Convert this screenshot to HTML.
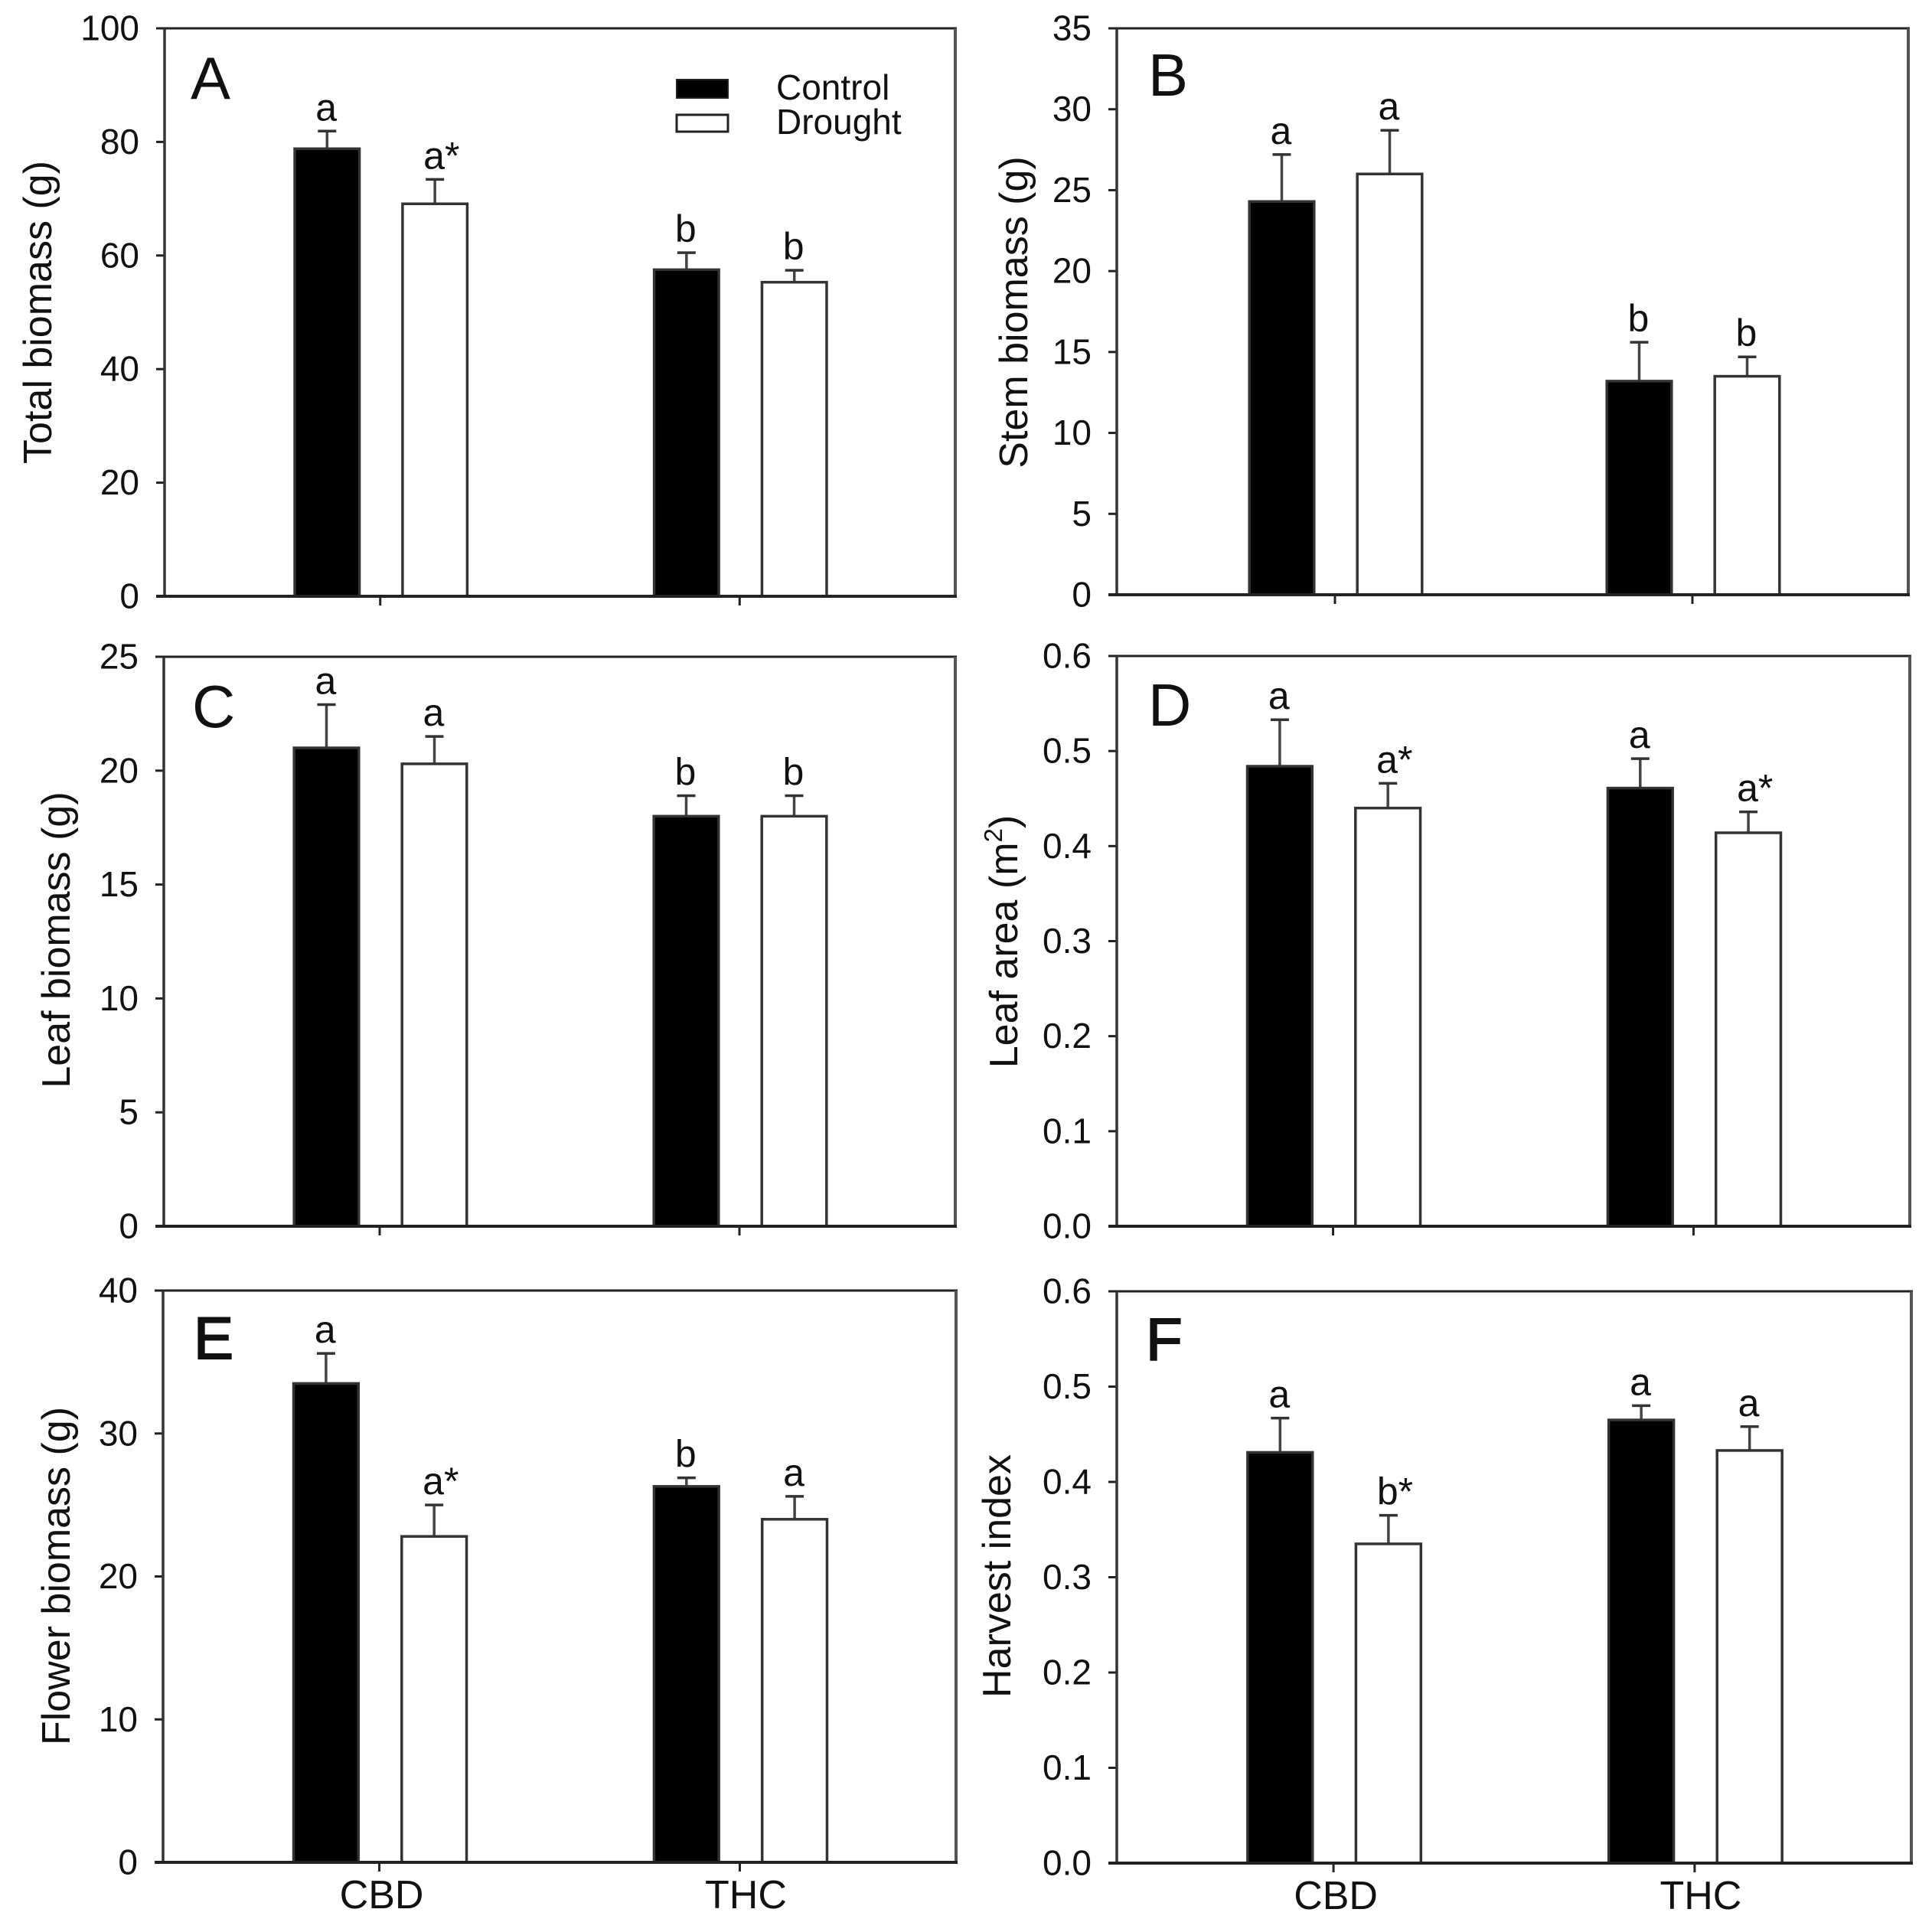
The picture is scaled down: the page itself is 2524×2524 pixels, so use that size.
<!DOCTYPE html>
<html lang="en">
<head>
<meta charset="utf-8">
<title>Biomass by chemotype and drought treatment</title>
<style>
html,body{margin:0;padding:0;background:#fff;width:2524px;height:2524px;overflow:hidden}
svg{display:block;font-family:"Liberation Sans",sans-serif;fill:#111}
</style>
</head>
<body>
<svg id="chart" xmlns="http://www.w3.org/2000/svg" width="2524" height="2524" viewBox="0 0 2524 2524"></svg>
<script>
const categories = ['CBD', 'THC'];
const legendLabels = ['Control', 'Drought'];

const ticksA = [0, 20, 40, 60, 80, 100];
const controlA = [78.8, 57.5];
const droughtA = [69.1, 55.3];
const controlTopA = [81.9, 60.5];
const droughtTopA = [73.4, 57.4];
const controlSigA = ['a', 'b'];
const droughtSigA = ['a*', 'b'];

const ticksB = [0, 5, 10, 15, 20, 25, 30, 35];
const controlB = [24.3, 13.2];
const droughtB = [26, 13.5];
const controlTopB = [27.2, 15.6];
const droughtTopB = [28.7, 14.7];
const controlSigB = ['a', 'b'];
const droughtSigB = ['a', 'b'];

const ticksC = [0, 5, 10, 15, 20, 25];
const controlC = [21, 18];
const droughtC = [20.3, 18];
const controlTopC = [22.9, 18.9];
const droughtTopC = [21.5, 18.9];
const controlSigC = ['a', 'b'];
const droughtSigC = ['a', 'b'];

const ticksD = ['0.0', '0.1', '0.2', '0.3', '0.4', '0.5', '0.6'];
const controlD = [0.484, 0.461];
const droughtD = [0.44, 0.414];
const controlTopD = [0.533, 0.492];
const droughtTopD = [0.466, 0.436];
const controlSigD = ['a', 'a'];
const droughtSigD = ['a*', 'a*'];

const ticksE = [0, 10, 20, 30, 40];
const controlE = [33.5, 26.3];
const droughtE = [22.8, 24];
const controlTopE = [35.6, 26.9];
const droughtTopE = [25, 25.6];
const controlSigE = ['a', 'b'];
const droughtSigE = ['a*', 'a'];

const ticksF = ['0.0', '0.1', '0.2', '0.3', '0.4', '0.5', '0.6'];
const controlF = [0.431, 0.465];
const droughtF = [0.335, 0.433];
const controlTopF = [0.467, 0.48];
const droughtTopF = [0.365, 0.458];
const controlSigF = ['a', 'a'];
const droughtSigF = ['b*', 'a'];

const svg = document.getElementById('chart');
const NS = 'http://www.w3.org/2000/svg';
const INK = '#222';

function make(tag, attrs, parent, name, text) {
  const el = document.createElementNS(NS, tag);
  for (const key in attrs) el.setAttribute(key, attrs[key]);
  
  
  if (text !== undefined) el.textContent = text;
  parent.appendChild(el);
  return el;
}

function line(parent, name, x1, y1, x2, y2, w, color) {
  return make('line', { x1, y1, x2, y2, stroke: color || INK, 'stroke-width': w || 3 }, parent, name);
}

function drawPanel(p) {
  const g = make('g', {}, svg, 'panel-' + p.letter.toLowerCase());
  const ymax = Number(p.ticks[p.ticks.length - 1]);
  const sy = v => p.bottom - (v / ymax) * (p.bottom - p.top);
  const sx = u => p.left + ((u - 0.4) / 2.2) * (p.right - p.left);
  const barW = 0.18;
  const off = 0.15;
  const groupShift = p.firstGroupShift || 0;

  line(g, 'plot-frame-top', p.left - 1, p.top, p.right + 2, p.top, 3, '#222');
  line(g, 'plot-frame-right', p.right, p.top, p.right, p.bottom, 4, '#555');

  p.ticks.forEach(t => {
    const y = sy(Number(t));
    line(g, 'y-tick', p.left - 11, y, p.left, y, 3);
    make('text', { x: p.left - 33, y: y + 15.5, 'text-anchor': 'end', 'font-size': 46 }, g, 'y-tick-label', String(t));
  });

  categories.forEach((cat, i) => {
    const shift = i === 0 ? groupShift : 0;
    const cx = sx(i + 1) + shift;
    line(g, 'x-tick', cx, p.bottom, cx, p.bottom + 12, 3);
    if (p.xLabels) {
      make('text', { x: cx + (i === 0 ? 3 : 8), y: p.bottom + 60, 'text-anchor': 'middle', 'font-size': 52 }, g, 'x-tick-label-' + cat.toLowerCase(), cat);
    }
    const series = [
      { key: 'control', v: p.control[i], top: p.controlTop[i], sig: p.controlSig[i], cxU: i + 1 - off, fill: '#000' },
      { key: 'drought', v: p.drought[i], top: p.droughtTop[i], sig: p.droughtSig[i], cxU: i + 1 + off, fill: '#fff' }
    ];
    series.forEach(s => {
      const bx = sx(s.cxU) + shift + 1;
      const w = sx(barW) - sx(0);
      const yTop = sy(s.top);
      line(g, 'error-bar-' + s.key, bx, sy(s.v), bx, yTop, 3.5, '#444');
      line(g, 'error-cap-' + s.key, bx - 12, yTop, bx + 12, yTop, 3.5, '#333');
      make('rect', { x: bx - w / 2, y: sy(s.v), width: w, height: p.bottom - sy(s.v), fill: s.fill, stroke: '#333', 'stroke-width': 3.5 }, g, 'bar-' + cat.toLowerCase() + '-' + s.key);
      make('text', { x: bx - 15, y: yTop - 14, 'font-size': 50 }, g, 'significance-label', s.sig);
    });
  });

  line(g, 'y-axis-line', p.left, p.top, p.left, p.bottom, 3.5, '#333');
  line(g, 'x-axis-line', p.left - 11, p.bottom, p.right + 2, p.bottom, 4, '#222');

  const letter = make('text', { x: p.left + p.letterDx, y: p.top + p.letterDy, 'font-size': 78 }, g, 'panel-letter', p.letter);
  if (p.heavyLetter) {
    letter.setAttribute('stroke', '#111');
    letter.setAttribute('stroke-width', '2');
  }

  const title = make('text', { transform: 'translate(' + p.titleX + ' ' + p.titleY + ') rotate(-90)', 'text-anchor': 'middle', 'font-size': 52 }, g, 'y-axis-title', p.title);
  if (p.titleSup) {
    make('tspan', { dy: -20, 'font-size': 33 }, title, 'y-axis-title-exponent', p.titleSup);
    make('tspan', { dy: 20 }, title, 'y-axis-title-close', ')');
  }
}

drawPanel({ letter: 'A', left: 215, right: 1248, top: 37, bottom: 779, ticks: ticksA, control: controlA, drought: droughtA, controlTop: controlTopA, droughtTop: droughtTopA, controlSig: controlSigA, droughtSig: droughtSigA, title: 'Total biomass (g)', titleX: 67, titleY: 408, letterDx: 34, letterDy: 92 });
drawPanel({ letter: 'B', left: 1459, right: 2493, top: 37, bottom: 777, firstGroupShift: 3, ticks: ticksB, control: controlB, drought: droughtB, controlTop: controlTopB, droughtTop: droughtTopB, controlSig: controlSigB, droughtSig: droughtSigB, title: 'Stem biomass (g)', titleX: 1342, titleY: 408, letterDx: 41, letterDy: 88 });
drawPanel({ letter: 'C', left: 214, right: 1248, top: 858, bottom: 1602, ticks: ticksC, control: controlC, drought: droughtC, controlTop: controlTopC, droughtTop: droughtTopC, controlSig: controlSigC, droughtSig: droughtSigC, title: 'Leaf biomass (g)', titleX: 91, titleY: 1228, letterDx: 37, letterDy: 92 });
drawPanel({ letter: 'D', left: 1459, right: 2495, top: 857, bottom: 1602, ticks: ticksD, control: controlD, drought: droughtD, controlTop: controlTopD, droughtTop: droughtTopD, controlSig: controlSigD, droughtSig: droughtSigD, title: 'Leaf area (m', titleSup: '2', titleX: 1329, titleY: 1230, letterDx: 41, letterDy: 91 });
drawPanel({ letter: 'E', left: 213, right: 1249, top: 1686, bottom: 2433, heavyLetter: true, ticks: ticksE, control: controlE, drought: droughtE, controlTop: controlTopE, droughtTop: droughtTopE, controlSig: controlSigE, droughtSig: droughtSigE, title: 'Flower biomass (g)', titleX: 91, titleY: 2059, letterDx: 40, letterDy: 89, xLabels: true });
drawPanel({ letter: 'F', left: 1459, right: 2497, top: 1687, bottom: 2434, heavyLetter: true, ticks: ticksF, control: controlF, drought: droughtF, controlTop: controlTopF, droughtTop: droughtTopF, controlSig: controlSigF, droughtSig: droughtSigF, title: 'Harvest index', titleX: 1320, titleY: 2059, letterDx: 38, letterDy: 90, xLabels: true });

const legend = make('g', {}, svg, 'legend');
make('rect', { x: 884, y: 104, width: 67, height: 24, fill: '#000', stroke: INK, 'stroke-width': 2 }, legend, 'legend-swatch-control');
make('rect', { x: 884, y: 150, width: 67, height: 22, fill: '#fff', stroke: INK, 'stroke-width': 3 }, legend, 'legend-swatch-drought');
make('text', { x: 1014, y: 130, 'font-size': 46 }, legend, 'legend-label-control', legendLabels[0]);
make('text', { x: 1014, y: 175, 'font-size': 46 }, legend, 'legend-label-drought', legendLabels[1]);
</script>
</body>
</html>
